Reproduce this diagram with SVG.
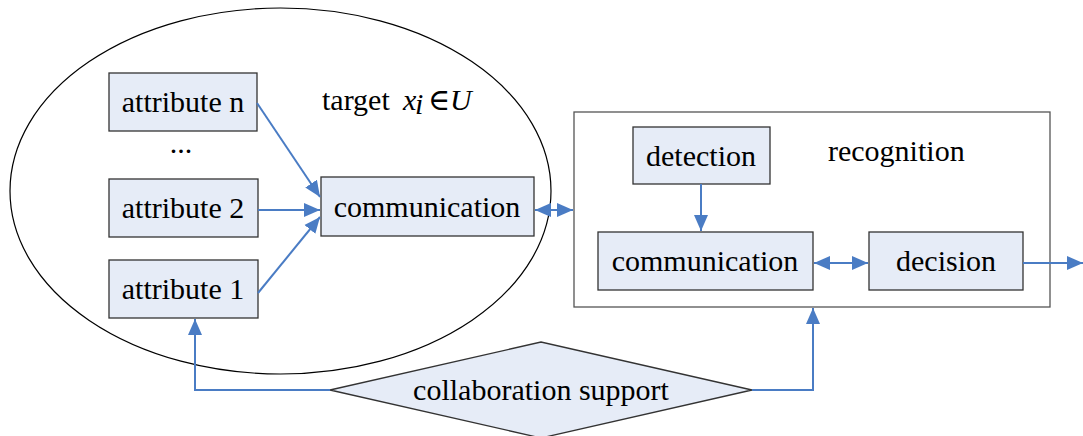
<svg xmlns="http://www.w3.org/2000/svg" width="1083" height="436" viewBox="0 0 1083 436" font-family="'Liberation Serif', 'DejaVu Serif', 'Times New Roman', serif">
  <style>
    .box { fill: #e6ecf7; stroke: #333; stroke-width: 1.3; }
    .frame { fill: #fff; stroke: #555; stroke-width: 1.3; }
    .lbl { font-family: "Liberation Serif", "DejaVu Serif", "Times New Roman", serif; font-size: 30px; fill: #000; }
    .mid { text-anchor: middle; }
    .conn { fill: none; stroke: #4a7cc4; stroke-width: 2; }
  </style>
  <defs>
    <marker id="ah" markerUnits="userSpaceOnUse" markerWidth="18" markerHeight="18" viewBox="0 0 18 18" refX="16" refY="9" orient="auto-start-reverse">
      <path d="M0,2 L16,9 L0,16 Z" fill="#4a7cc4"/>
    </marker>
  </defs>

  <g id="target-region">
    <ellipse cx="280.5" cy="191" rx="270.5" ry="183" fill="none" stroke="#000" stroke-width="1.2"/>
    <text class="lbl" x="322" y="110">target</text>
    <text class="lbl" x="403" y="110" font-style="italic" font-size="24">x</text>
    <text class="lbl" x="415" y="114" font-style="italic" font-size="13">i</text>
    <text class="lbl" x="428" y="110" font-size="22">∈</text>
    <text class="lbl" x="450" y="110" font-style="italic" font-size="27">U</text>
  </g>

  <g id="recognition-region">
    <rect class="frame" x="574" y="112" width="476" height="195"/>
    <text class="lbl" x="828" y="161">recognition</text>
  </g>

  <g id="attribute-n">
    <rect class="box" x="109" y="73" width="148" height="58"/>
    <text class="lbl mid" x="183" y="112">attribute n</text>
  </g>
  <g id="ellipsis">
    <text class="lbl mid" x="181" y="153">...</text>
  </g>
  <g id="attribute-2">
    <rect class="box" x="109" y="179" width="149" height="58"/>
    <text class="lbl mid" x="183" y="218">attribute 2</text>
  </g>
  <g id="attribute-1">
    <rect class="box" x="109" y="260" width="149" height="58"/>
    <text class="lbl mid" x="183" y="299">attribute 1</text>
  </g>
  <g id="communication-target">
    <rect class="box" x="321" y="177" width="213" height="59"/>
    <text class="lbl mid" x="427" y="217">communication</text>
  </g>
  <g id="detection">
    <rect class="box" x="633" y="127" width="137" height="57"/>
    <text class="lbl mid" x="701" y="166">detection</text>
  </g>
  <g id="communication-recognition">
    <rect class="box" x="598" y="232" width="215" height="58"/>
    <text class="lbl mid" x="705" y="271">communication</text>
  </g>
  <g id="decision">
    <rect class="box" x="869" y="232" width="154" height="58"/>
    <text class="lbl mid" x="946" y="271">decision</text>
  </g>
  <g id="collaboration-support">
    <polygon class="box" points="330,390 541,342 752,390 541,438"/>
    <text class="lbl mid" x="541" y="400">collaboration support</text>
  </g>

  <g id="connectors">
    <path class="conn" d="M257,103 L320,197" marker-end="url(#ah)"/>
    <path class="conn" d="M258,210 L320,210" marker-end="url(#ah)"/>
    <path class="conn" d="M258,293 L320,217" marker-end="url(#ah)"/>
    <path class="conn" d="M535,210 L573,210" marker-start="url(#ah)" marker-end="url(#ah)"/>
    <path class="conn" d="M701,184 L701,231" marker-end="url(#ah)"/>
    <path class="conn" d="M814,263 L868,263" marker-start="url(#ah)" marker-end="url(#ah)"/>
    <path class="conn" d="M1023,263 L1083,263" marker-end="url(#ah)"/>
    <path class="conn" d="M330,390 L195,390 L195,319" marker-end="url(#ah)"/>
    <path class="conn" d="M752,390 L813,390 L813,308" marker-end="url(#ah)"/>
  </g>
</svg>
